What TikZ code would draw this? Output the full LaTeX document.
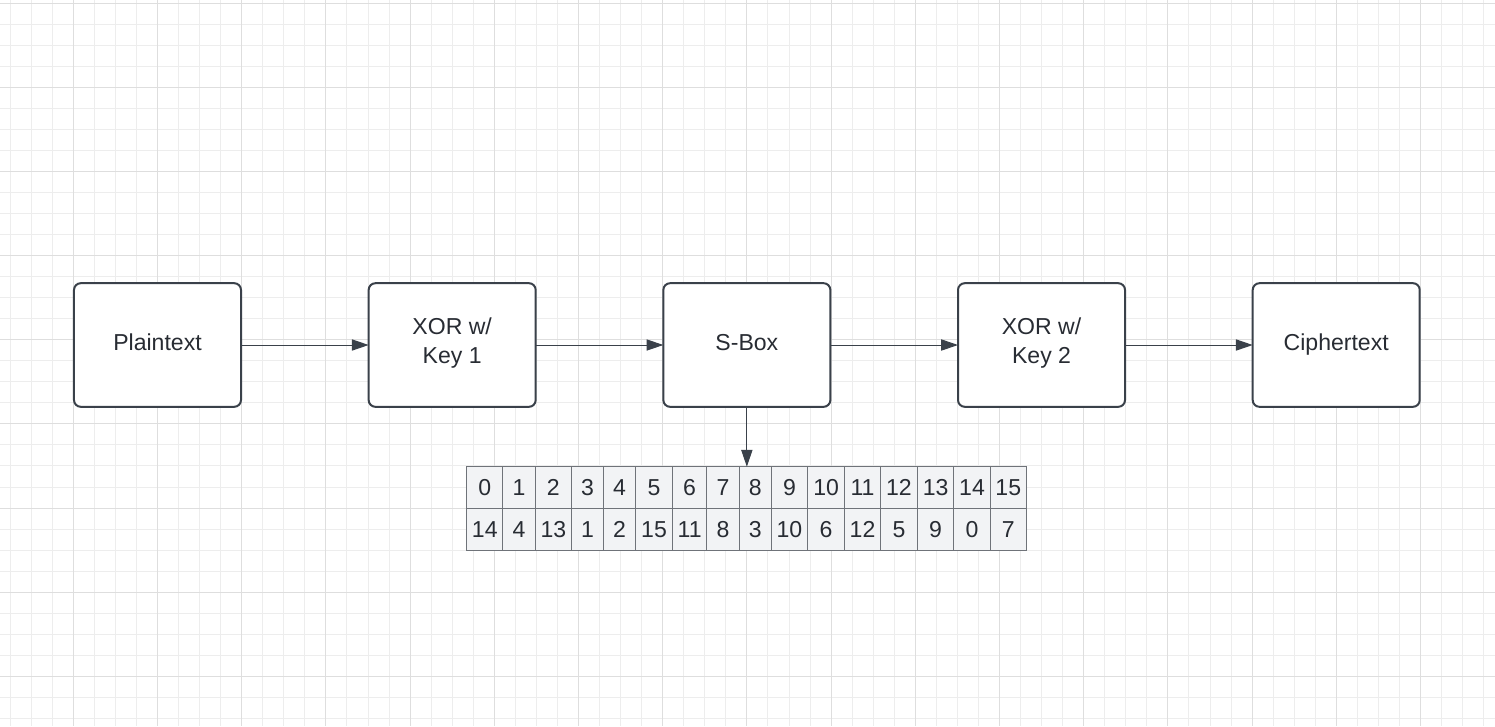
\documentclass[tikz,border=0pt]{standalone}
\usepackage{fontspec}
\setmainfont{Liberation Sans}
\usetikzlibrary{arrows.meta,positioning}
\definecolor{lucidline}{HTML}{3A414A}
\definecolor{lucidtext}{HTML}{282C33}
\definecolor{lucidcell}{HTML}{F2F3F5}
\definecolor{cellborder}{HTML}{6F7379}
\definecolor{gridminor}{HTML}{EDEDED}
\definecolor{gridmajor}{HTML}{DEDEDE}

\begin{document}
\begin{tikzpicture}[
  x=0.025cm, y=-0.025cm,
  node distance=3.19cm,
  stage/.style={
    draw=lucidline, fill=white, rounded corners=0.17cm, line width=0.05cm,
    minimum width=4.175cm, minimum height=3.09cm, outer sep=0pt,
    align=center, font=\fontsize{16.4}{20.1}\selectfont, text=lucidtext,
    execute at begin node=\strut, execute at end node=\strut
  },
  cell/.style={
    draw=cellborder, fill=lucidcell, line width=0.025cm, minimum height=1.05cm,
    inner sep=0pt, outer sep=0pt, font=\fontsize{16.4}{20}\selectfont, text=lucidtext
  },
  flow/.style={-{Triangle[length=0.42cm, width=0.28cm]}, line width=0.025cm, draw=lucidline},
  minorline/.style={draw=gridminor, line width=0.025cm},
  majorline/.style={draw=gridmajor, line width=0.025cm}
]
  % Canvas and background grid
  \fill[white] (0,0) rectangle (1495,726);
  \useasboundingbox (0,0) rectangle (1495,726);
  \foreach \k in {0,...,70} \draw[minorline] ({10.15+21.05*\k},0) -- ({10.15+21.05*\k},726);
  \foreach \k in {0,...,34} \draw[minorline] (0,{3.3+21.03*\k}) -- (1495,{3.3+21.03*\k});
  \foreach \k in {0,...,16} \draw[majorline] ({73.3+84.2*\k},0) -- ({73.3+84.2*\k},726);
  \foreach \k in {0,...,8} \draw[majorline] (0,{3.3+84.12*\k}) -- (1495,{3.3+84.12*\k});

  % Cipher stages
  \node[stage] (plain) at (157.5,345) {Plaintext};
  \node[stage, right=of plain] (xor1) {XOR w/\\Key 1};
  \node[stage, right=of xor1] (sbox) {S-Box};
  \node[stage, right=of sbox] (xor2) {XOR w/\\Key 2};
  \node[stage, right=of xor2] (cipher) {Ciphertext};

  % S-Box lookup table
  \node[inner sep=0pt, outer sep=0pt, anchor=north east] (top-0) at (466.7,466.7) {};
  \foreach \w/\a/\b [count=\i, remember=\i as \p (initially 0)] in {36.2/0/14, 32.2/1/4, 36.6/2/13, 31.8/3/1, 32.2/4/2, 36.7/5/15, 34.4/6/11, 32.5/7/8, 31.8/8/3, 36.7/9/10, 36.6/10/6, 36.2/11/12, 36.7/12/5, 36.6/13/9, 36.2/14/0, 36.3/15/7} {
    \node[cell, minimum width=\w*0.025cm, anchor=north west] (top-\i) at (top-\p.north east) {\a};
    \node[cell, minimum width=\w*0.025cm, anchor=north] (bot-\i) at (top-\i.south) {\b};
  }

  % Dataflow arrows
  \draw[flow] (plain) -- (xor1);
  \draw[flow] (xor1) -- (sbox);
  \draw[flow] (sbox) -- (xor2);
  \draw[flow] (xor2) -- (cipher);
  \draw[flow] (sbox.south) -- (sbox.south |- top-1.north);
\end{tikzpicture}
\end{document}
